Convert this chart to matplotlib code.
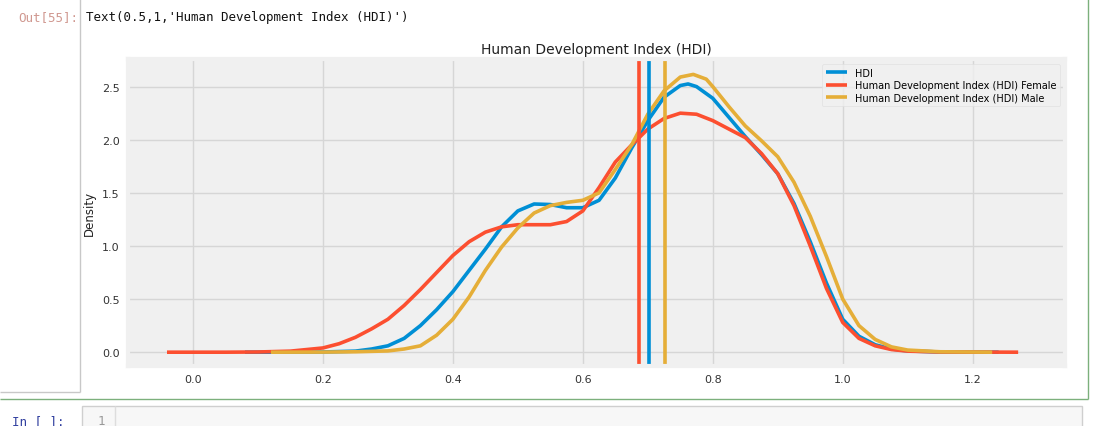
import matplotlib
matplotlib.use('Agg')
import matplotlib.pyplot as plt
from matplotlib.lines import Line2D
from matplotlib.patches import Rectangle

# density curves (pandas kde look)
hdi_x = [0.08, 0.15, 0.2, 0.25, 0.275, 0.3, 0.325, 0.35, 0.375, 0.4, 0.425, 0.45, 0.475,
         0.5, 0.525, 0.55, 0.575, 0.6, 0.625, 0.65, 0.675, 0.7, 0.725, 0.75, 0.762, 0.775, 0.8,
         0.825, 0.85, 0.875, 0.9, 0.925, 0.95, 0.975, 1.0, 1.025, 1.05, 1.075, 1.1, 1.15, 1.24]
hdi_y = [0, 0, 0.002, 0.01, 0.03, 0.06, 0.13, 0.25, 0.4, 0.57, 0.77, 0.97, 1.18,
         1.33, 1.395, 1.39, 1.36, 1.36, 1.43, 1.64, 1.92, 2.18, 2.4, 2.51, 2.525, 2.50, 2.39,
         2.21, 2.03, 1.86, 1.68, 1.40, 1.04, 0.65, 0.31, 0.15, 0.07, 0.03, 0.012, 0.002, 0]

female_x = [-0.04, 0.05, 0.1, 0.15, 0.2, 0.225, 0.25, 0.275, 0.3, 0.325, 0.35, 0.375, 0.4,
            0.425, 0.45, 0.475, 0.5, 0.525, 0.55, 0.575, 0.6, 0.625, 0.65, 0.675, 0.7,
            0.725, 0.75, 0.775, 0.8, 0.825, 0.85, 0.875, 0.9, 0.925, 0.95, 0.975, 1.0,
            1.025, 1.05, 1.075, 1.1, 1.15, 1.27]
female_y = [0, 0, 0.002, 0.01, 0.04, 0.08, 0.14, 0.22, 0.31, 0.44, 0.59, 0.75, 0.91,
            1.04, 1.13, 1.18, 1.2, 1.2, 1.2, 1.23, 1.33, 1.55, 1.79, 1.95, 2.1,
            2.2, 2.25, 2.24, 2.18, 2.1, 2.02, 1.87, 1.68, 1.38, 1.0, 0.6, 0.28,
            0.13, 0.06, 0.025, 0.01, 0.002, 0]

male_x = [0.12, 0.2, 0.25, 0.3, 0.325, 0.35, 0.375, 0.4, 0.425, 0.45, 0.475, 0.5, 0.525,
          0.55, 0.575, 0.6, 0.625, 0.65, 0.675, 0.7, 0.725, 0.75, 0.77, 0.79, 0.8, 0.825,
          0.85, 0.875, 0.9, 0.925, 0.95, 0.975, 1.0, 1.025, 1.05, 1.075, 1.1, 1.15, 1.23]
male_y = [0, 0.001, 0.004, 0.012, 0.03, 0.06, 0.16, 0.31, 0.52, 0.77, 0.99, 1.17, 1.31,
          1.38, 1.41, 1.43, 1.5, 1.72, 1.95, 2.24, 2.46, 2.59, 2.615, 2.57, 2.5, 2.31,
          2.13, 1.99, 1.84, 1.6, 1.28, 0.9, 0.5, 0.25, 0.12, 0.05, 0.02, 0.004, 0]

means = {'female': 0.686, 'hdi': 0.702, 'male': 0.726}

labels = ['HDI', 'Human Development Index (HDI) Female', 'Human Development Index (HDI) Male']
colors = ['#008fd5', '#fc4f30', '#e5ae38']

plt.style.use('fivethirtyeight')
plt.rcParams['figure.facecolor'] = 'white'
plt.rcParams['savefig.facecolor'] = 'white'

fig = plt.figure(figsize=(11.17, 4.27), dpi=100)
ax = fig.add_axes([0.1146, 0.1405, 0.8388, 0.719])
ax.set_facecolor('#f0f0f0')

lw = 2.6
ax.plot(hdi_x, hdi_y, color=colors[0], lw=lw, label=labels[0], solid_joinstyle='round')
ax.plot(female_x, female_y, color=colors[1], lw=lw, label=labels[1], solid_joinstyle='round')
ax.plot(male_x, male_y, color=colors[2], lw=lw, label=labels[2], solid_joinstyle='round')

ax.axvline(means['female'], color=colors[1], lw=lw)
ax.axvline(means['hdi'], color=colors[0], lw=lw)
ax.axvline(means['male'], color=colors[2], lw=lw)

ax.set_xlim(-0.1, 1.342)
ax.set_ylim(-0.13, 2.76)
ax.set_xticks([0.0, 0.2, 0.4, 0.6, 0.8, 1.0, 1.2])
ax.set_yticks([0.0, 0.5, 1.0, 1.5, 2.0, 2.5])
ax.tick_params(labelsize=8, colors='#333333', length=0, pad=6)
ax.grid(True, color='#d6d6d6', lw=1)
ax.set_ylabel('Density', fontsize=8.5, color='#222222', labelpad=4)
ax.set_title('Human Development Index (HDI)', fontsize=10, color='#222222', pad=4)
leg = ax.legend(loc='upper right', fontsize=7, frameon=True, handlelength=2.2,
                borderpad=0.4, labelspacing=0.25)
leg.get_frame().set_facecolor('#f0f0f0')
leg.get_frame().set_edgecolor('#dddddd')

# notebook chrome around the figure
fig.text(18 / 1117, 1 - 18 / 427, 'Out[55]:', fontsize=9, family='DejaVu Sans Mono',
         color='#d09890', va='center')
fig.text(86 / 1117, 1 - 18 / 427, "Text(0.5,1,'Human Development Index (HDI)')",
         fontsize=9, family='DejaVu Sans Mono', color='#111111', va='center')
fig.add_artist(Line2D([80 / 1117, 80 / 1117], [1, 1 - 393 / 427], color='#c8c8c8', lw=1))
fig.add_artist(Line2D([0, 80 / 1117], [1 - 393 / 427, 1 - 393 / 427], color='#c8c8c8', lw=1))
fig.add_artist(Line2D([0, 1088 / 1117], [1 - 400 / 427, 1 - 400 / 427], color='#7cb07c', lw=1))
fig.add_artist(Line2D([1088 / 1117, 1088 / 1117], [1, 1 - 400 / 427], color='#7cb07c', lw=1))
fig.add_artist(Rectangle((82 / 1117, -0.01), 1000 / 1117, (427 - 407) / 427 + 0.01,
                         transform=fig.transFigure, facecolor='#f7f7f7',
                         edgecolor='#cfcfcf', lw=1))
fig.add_artist(Line2D([115 / 1117, 115 / 1117], [0, 1 - 407 / 427], color='#dddddd', lw=1))
fig.text(12 / 1117, 1 - 422 / 427, 'In [ ]:', fontsize=9, family='DejaVu Sans Mono',
         color='#303f9f', va='center')
fig.text(98 / 1117, 1 - 422 / 427, '1', fontsize=9, family='DejaVu Sans Mono',
         color='#999999', va='center')

fig.savefig('out.png', dpi=100)
